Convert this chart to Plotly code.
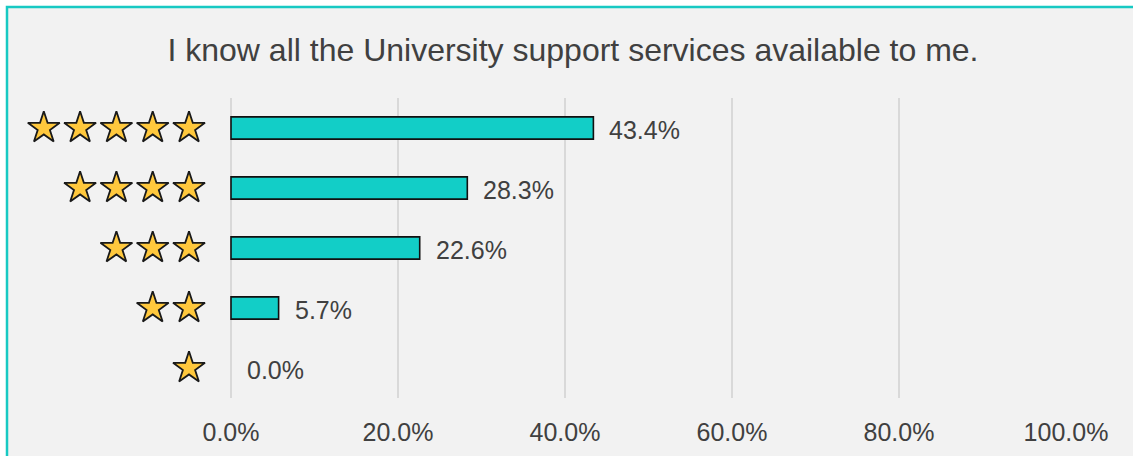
import plotly.graph_objects as go

title_text = "I know all the University support services available to me."
ratings = [5, 4, 3, 2, 1]
shares = [43.4, 28.3, 22.6, 5.7, 0.0]
tick_vals = [0, 20, 40, 60, 80, 100]
tick_labels = ["0.0%", "20.0%", "40.0%", "60.0%", "80.0%", "100.0%"]

W, H = 1133, 456
X0_PX, X100_PX = 231, 1066          # pixel positions of 0% and 100%
L, R, T, B = 10, W - X100_PX, 98, 58
TXT = "#404040"
FONT = "Liberation Sans, Arial, sans-serif"

plot_w = W - L - R
plot_h = H - T - B
unit = (X100_PX - X0_PX) / 100.0     # pixels per percent
xmin = -(X0_PX - L) / unit

def paper_x(px):
    return (px - L) / plot_w

def paper_y(py):
    return (H - B - py) / plot_h

fig = go.Figure()
fig.add_trace(go.Bar(
    x=shares, y=ratings, orientation="h", width=0.37,
    marker=dict(color="#12cec7",
                line=dict(color="#111111", width=[1.6 if v > 0 else 0 for v in shares])),
    showlegend=False, hoverinfo="skip",
))

# value labels
for v, r in zip(shares, ratings):
    fig.add_annotation(x=v, y=r, text=f"{v:.1f}%", showarrow=False,
                       xanchor="left", yanchor="middle", xshift=14, yshift=-2,
                       font=dict(size=25, color=TXT, family=FONT))

# star icons acting as category labels
star_gap = 36.3 / unit
star_off = 42 / unit
sx, sy = [], []
for r in ratings:
    for k in range(r):
        sx.append(-star_off - k * star_gap)
        sy.append(r)
fig.add_trace(go.Scatter(
    x=sx, y=sy, mode="markers", showlegend=False, hoverinfo="skip",
    marker=dict(symbol="star", size=24, color="#ffc83d", line=dict(color="#1a1a1a", width=1.8)),
))

fig.update_layout(
    width=W, height=H,
    margin=dict(l=L, r=R, t=T, b=B),
    paper_bgcolor="white", plot_bgcolor="rgba(0,0,0,0)",
    font=dict(family=FONT, color=TXT, size=25),
    hovermode=False,
    title=dict(text=title_text, x=573 / W, xanchor="center", y=1 - 50 / H, yanchor="middle",
               font=dict(size=32, color=TXT, family=FONT)),
    xaxis=dict(range=[xmin, 100], tickvals=tick_vals, ticktext=tick_labels,
               showgrid=True, gridcolor="#d9d9d9", gridwidth=1.5, zeroline=False,
               ticks="outside", ticklen=12, tickcolor="rgba(0,0,0,0)",
               tickfont=dict(size=25, color=TXT), automargin=False, fixedrange=True),
    yaxis=dict(range=[0.5, 5.5], showticklabels=False, showgrid=False, zeroline=False,
               automargin=False, fixedrange=True),
    shapes=[dict(type="rect", xref="paper", yref="paper", layer="below",
                 x0=paper_x(7), x1=paper_x(W + 20), y0=paper_y(H + 20), y1=paper_y(7),
                 fillcolor="#f2f2f2", line=dict(color="#17c9c3", width=2.5))],
)

fig.write_html("out.html")
